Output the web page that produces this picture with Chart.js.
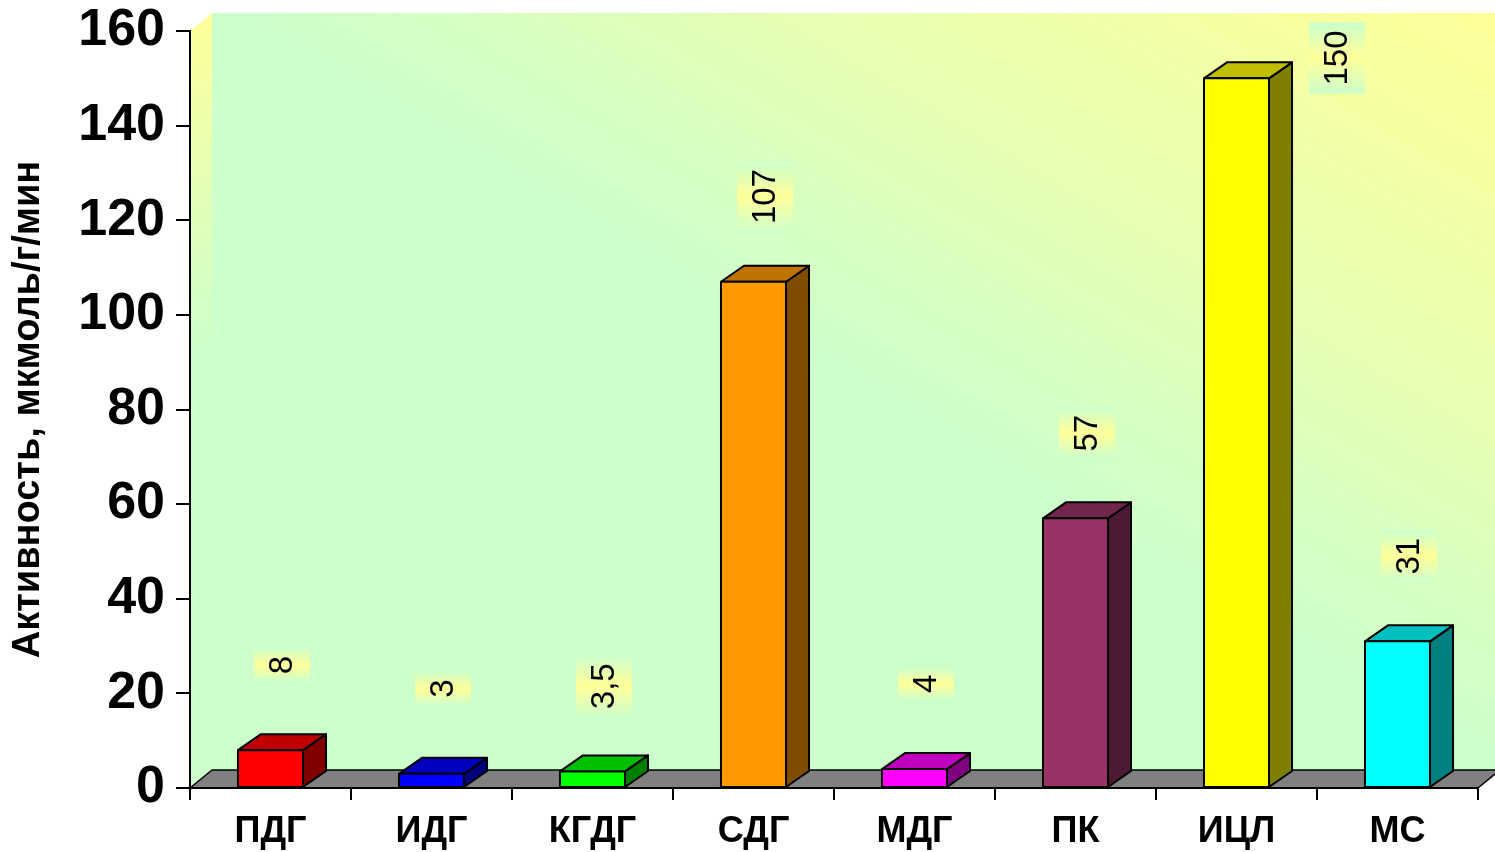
<!DOCTYPE html>
<html>
<head>
<meta charset="utf-8">
<script src="https://cdn.jsdelivr.net/npm/chart.js@4.4.1/dist/chart.umd.min.js"></script>
<style>
  html, body { margin: 0; padding: 0; background: #ffffff; }
  canvas { display: block; }
</style>
</head>
<body>
<canvas id="chart" width="1495" height="852"></canvas>
<script>
// Enzyme activity per enzyme, µmol/g/min
const categories  = ['ПДГ', 'ИДГ', 'КГДГ', 'СДГ', 'МДГ', 'ПК', 'ИЦЛ', 'МС'];
const activity    = [8, 3, 3.5, 107, 4, 57, 150, 31];
const valueLabels = ['8', '3', '3,5', '107', '4', '57', '150', '31'];
const barColors   = ['#ff0000', '#0000ff', '#00ff00', '#ff9900', '#ff00ff', '#993366', '#ffff00', '#00ffff'];
const yAxisMin = 0;
const yAxisMax = 160;
const yAxisStep = 20;
const yAxisTitle = 'Активность, мкмоль/г/мин';

const FONT = '"Liberation Sans", Arial, Helvetica, sans-serif';
Chart.defaults.font.family = FONT;
Chart.defaults.color = '#000000';

// 3D geometry (pixels)
const BAR_DX = 23, BAR_DY = 16;      // bar depth
const WALL_DX = 22, WALL_DY = 18;    // floor / wall depth
const LABEL_LIFT = 18;               // label centre above the value, in axis units
const LABEL_BOX = 56;                // label box thickness

function shade(hex, f) {
  const n = parseInt(hex.slice(1), 16);
  const r = Math.round(((n >> 16) & 255) * f);
  const g = Math.round(((n >> 8) & 255) * f);
  const b = Math.round((n & 255) * f);
  return `rgb(${r},${g},${b})`;
}

function poly(ctx, pts, fill, stroke, lw) {
  ctx.beginPath();
  ctx.moveTo(pts[0][0], pts[0][1]);
  for (let i = 1; i < pts.length; i++) ctx.lineTo(pts[i][0], pts[i][1]);
  ctx.closePath();
  if (fill) { ctx.fillStyle = fill; ctx.fill(); }
  if (stroke) { ctx.strokeStyle = stroke; ctx.lineWidth = lw || 1; ctx.lineJoin = 'round'; ctx.stroke(); }
}

// Walls and floor behind the axes
const sceneBackdrop = {
  id: 'sceneBackdrop',
  beforeDraw(chart) {
    const { ctx, chartArea: a, width } = chart;
    ctx.save();
    const x0 = a.left + WALL_DX, y0 = a.top - WALL_DY;
    const x1 = width, y1 = a.bottom - WALL_DY;

    // back wall: green along the main diagonal, yellow toward the upper-right corner
    const cx = (x0 + x1) / 2, cy = (y0 + y1) / 2;
    const W = x1 - x0, H = y1 - y0;
    const len = Math.hypot(W, H);
    const nx = H / len, ny = -W / len;
    const d = (x1 - cx) * nx + (y0 - cy) * ny;
    const g = ctx.createLinearGradient(cx, cy, cx + nx * d, cy + ny * d);
    g.addColorStop(0, '#ccffcc');
    g.addColorStop(0.45, '#e6ffb3');
    g.addColorStop(1, '#ffff99');
    ctx.fillStyle = g;
    ctx.fillRect(x0, y0, x1 - x0, y1 - y0);

    // left side wall
    const lg = ctx.createLinearGradient(0, a.top - WALL_DY, 0, a.bottom);
    lg.addColorStop(0, '#ffff99');
    lg.addColorStop(0.2, '#e6ffb3');
    lg.addColorStop(0.45, '#ccffcc');
    lg.addColorStop(1, '#ccffcc');
    poly(ctx, [[a.left, a.top], [x0, y0], [x0, y1], [a.left, a.bottom]], lg);

    // floor
    poly(ctx, [[a.left, a.bottom], [a.right, a.bottom], [a.right + WALL_DX, a.bottom - WALL_DY], [a.left + WALL_DX, a.bottom - WALL_DY]],
      '#808080', '#000000', 1.5);
    ctx.restore();
  }
};

// 3D bars and their rotated value labels
const bars3d = {
  id: 'bars3d',
  afterDatasetsDraw(chart) {
    const { ctx, chartArea: a } = chart;
    const yScale = chart.scales.y;
    const meta = chart.getDatasetMeta(0);
    ctx.save();
    meta.data.forEach((el, i) => {
      const { x, y, base, width } = el.getProps(['x', 'y', 'base', 'width'], true);
      const l = x - width / 2, r = x + width / 2;
      const c = barColors[i];
      // side
      poly(ctx, [[r, y], [r + BAR_DX, y - BAR_DY], [r + BAR_DX, base - BAR_DY], [r, base]], shade(c, 0.5), '#000', 2);
      // top
      poly(ctx, [[l, y], [r, y], [r + BAR_DX, y - BAR_DY], [l + BAR_DX, y - BAR_DY]], shade(c, 0.75), '#000', 2);
      // front
      poly(ctx, [[l, y], [r, y], [r, base], [l, base]], c, '#000', 2);
    });

    ctx.font = `33px ${FONT}`;
    ctx.textAlign = 'center';
    ctx.textBaseline = 'middle';
    meta.data.forEach((el, i) => {
      const { x, width } = el.getProps(['x', 'width'], true);
      const v = activity[i];
      const text = valueLabels[i];
      const tw = ctx.measureText(text).width;
      const L = tw + 16;
      let lx, ly;
      if (v + LABEL_LIFT > yScale.max) {
        // no room above: place beside the bar, near the top
        lx = x + width / 2 + BAR_DX + 17 + LABEL_BOX / 2;
        ly = a.top + 27;
      } else {
        lx = x + BAR_DX / 2;
        ly = yScale.getPixelForValue(v + LABEL_LIFT);
      }
      const bg = ctx.createLinearGradient(lx, ly + L / 2, lx, ly - L / 2);
      bg.addColorStop(0, '#ccffcc');
      bg.addColorStop(0.5, '#ffff99');
      bg.addColorStop(1, '#ccffcc');
      ctx.fillStyle = bg;
      ctx.fillRect(lx - LABEL_BOX / 2, ly - L / 2, LABEL_BOX, L);
      ctx.save();
      ctx.translate(lx, ly);
      ctx.rotate(-Math.PI / 2);
      ctx.fillStyle = '#000000';
      ctx.fillText(text, 0, 1);
      ctx.restore();
    });
    ctx.restore();
  }
};

new Chart(document.getElementById('chart'), {
  type: 'bar',
  data: {
    labels: categories,
    datasets: [{
      data: activity,
      backgroundColor: 'rgba(0,0,0,0)',
      borderWidth: 0,
      barPercentage: 0.404,
      categoryPercentage: 1
    }]
  },
  options: {
    responsive: false,
    animation: false,
    devicePixelRatio: 1,
    layout: { padding: { top: 31, right: 17, left: 0, bottom: 0 } },
    plugins: { legend: { display: false }, tooltip: { enabled: false } },
    scales: {
      x: {
        grid: { display: true, offset: true, drawOnChartArea: false, drawTicks: true, tickLength: 12, color: '#000', lineWidth: 2 },
        border: { display: true, color: '#000', width: 2 },
        ticks: { font: { size: 36, weight: 'bold' }, color: '#000', padding: 10, maxRotation: 0 },
        afterFit(scale) { scale.height = 64; scale.paddingLeft = 0; scale.paddingRight = 0; }
      },
      y: {
        min: yAxisMin,
        max: yAxisMax,
        ticks: { stepSize: yAxisStep, font: { size: 52, weight: 'bold', lineHeight: 0.8 }, color: '#000', padding: 11 },
        grid: { display: true, drawOnChartArea: false, drawTicks: true, tickLength: 14, color: '#000', lineWidth: 2 },
        border: { display: true, color: '#000', width: 2 },
        title: { display: true, text: yAxisTitle, font: { size: 38, weight: 'bold', lineHeight: 1.2 }, color: '#000', padding: { top: 6, bottom: 0 } },
        afterFit(scale) { scale.width = 190; scale.paddingTop = 0; scale.paddingBottom = 0; }
      }
    }
  },
  plugins: [sceneBackdrop, bars3d]
});
</script>
</body>
</html>
